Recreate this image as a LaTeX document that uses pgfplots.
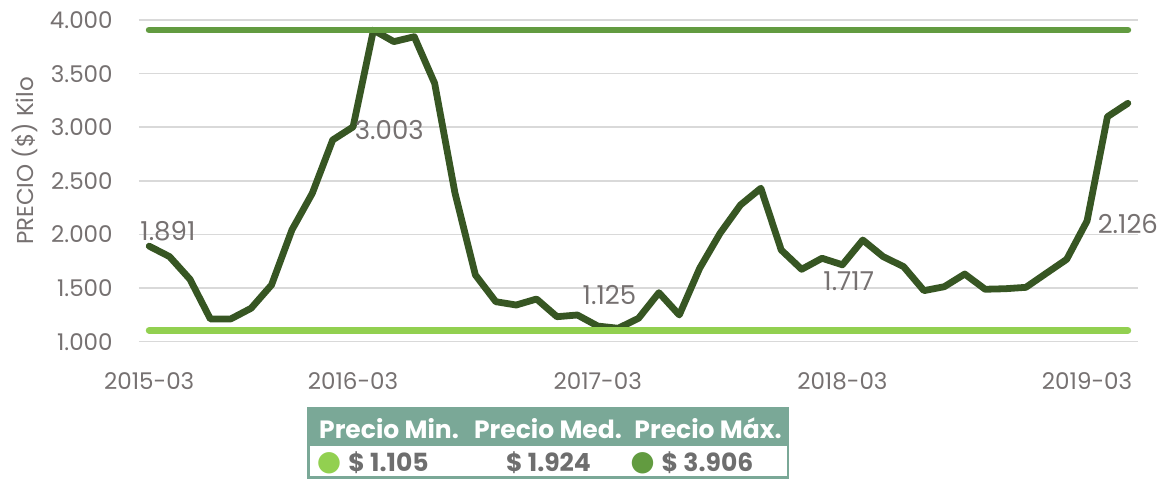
\documentclass[border=0pt]{standalone}
\usepackage{fontspec}
\setmainfont{Poppins}
\newfontfamily\symfont{DejaVu Sans}
\usepackage{pgfplots}
\usepackage{pgfplotstable}
\pgfplotsset{compat=1.18}

\definecolor{dkgreen}{HTML}{375623}
\definecolor{maxgreen}{HTML}{629B40}
\definecolor{mingreen}{HTML}{92D050}
\definecolor{hdr}{HTML}{7AA897}
\definecolor{txtgray}{HTML}{767171}
\definecolor{valgray}{HTML}{6E6E6E}
\definecolor{gridgray}{HTML}{D9D9D9}

\newcommand\lbl{\fontsize{11.5bp}{14bp}\selectfont}
\newcommand\datlbl{\fontsize{13bp}{15bp}\selectfont}
\newcommand\hdrfont{\fontsize{12.5bp}{15bp}\selectfont\bfseries}

% precio mensual por kilo
\pgfplotstableread{
x y
0 1891
1 1793
2 1582
3 1212
4 1212
5 1312
6 1529
7 2042
8 2384
9 2881
10 3003
11 3906
12 3798
13 3844
14 3410
15 2384
16 1622
17 1373
18 1342
19 1398
20 1233
21 1249
22 1146
23 1125
24 1218
25 1457
26 1249
27 1685
28 2011
29 2275
30 2431
31 1855
32 1675
33 1778
34 1717
35 1948
36 1793
37 1700
38 1476
39 1513
40 1631
41 1489
42 1494
43 1507
44 1638
45 1768
46 2126
47 3098
48 3223
}\precio

\begin{document}
\begin{tikzpicture}
\begin{axis}[
  name=ax, scale only axis,
  width=499.5bp, height=160.85bp,
  xmin=-0.5, xmax=48.5, ymin=1000, ymax=4000,
  axis line style={draw=none}, major tick length=0pt,
  ytick={1000,1500,...,4000},
  yticklabels={1.000,1.500,2.000,2.500,3.000,3.500,4.000},
  xtick={0,10,22,34,46},
  xticklabels={2015-03,2016-03,2017-03,2018-03,2019-03},
  ymajorgrids, grid style={color=gridgray, line width=0.75bp},
  tick label style={font=\lbl, text=txtgray, inner sep=0pt},
  yticklabel style={anchor=east, xshift=-13bp},
  xticklabel style={anchor=base, yshift=-24bp},
  ylabel={PRECIO (\$) Kilo},
  ylabel style={font=\lbl, text=txtgray, at={(axis description cs:-0.1141,0.5617)}, anchor=center},
  nodes near coords style={font=\datlbl, text=txtgray, inner sep=0pt},
  clip=false,
]
\addplot[dkgreen, line width=3.4bp, line join=round, line cap=round] table {\precio};

% etiquetas de datos
\addplot[draw=none, nodes near coords, point meta=explicit symbolic,
  every node near coord/.append style={anchor=center, xshift=9.35bp, yshift=7.4bp}]
  coordinates {(0,1891) [1.891]};
\addplot[draw=none, nodes near coords, point meta=explicit symbolic,
  every node near coord/.append style={anchor=center, xshift=18.1bp, yshift=-1.5bp}]
  coordinates {(10,3003) [3.003]};
\addplot[draw=none, nodes near coords, point meta=explicit symbolic,
  every node near coord/.append style={anchor=center, xshift=-4.35bp, yshift=16.65bp}]
  coordinates {(23,1125) [1.125]};
\addplot[draw=none, nodes near coords, point meta=explicit symbolic,
  every node near coord/.append style={anchor=center, xshift=3.15bp, yshift=-8.35bp}]
  coordinates {(34,1717) [1.717]};
\addplot[draw=none, nodes near coords, point meta=explicit symbolic,
  every node near coord/.append style={anchor=center, xshift=20.4bp, yshift=-1.65bp}]
  coordinates {(46,2126) [2.126]};

% precio maximo y minimo
\addplot[maxgreen, line width=3.4bp, line cap=round] coordinates {(0,3906) (48,3906)};
\addplot[mingreen, line width=3.4bp, line cap=round] coordinates {(0,1105) (48,1105)};
\end{axis}

% tabla resumen (coordenadas en pixeles de la referencia)
\begin{scope}[x=0.5bp, y=-0.5bp, shift={(ax.south west)}, shift={(-139,-341.7)}]
  \path (0,0) rectangle (1166,480);
  \fill[hdr] (307,407) rectangle (789,479);
  \fill[white] (310,446) rectangle (786.7,476.5);
  \node[anchor=base, text=white, font=\hdrfont, inner sep=0pt] at (389,438.3) {Precio Min.};
  \node[anchor=base, text=white, font=\hdrfont, inner sep=0pt] at (548,438.3) {Precio Med.};
  \node[anchor=base, text=white, font=\hdrfont, inner sep=0pt] at (708,438.3) {Precio Máx.};
  \node[text=mingreen, font=\symfont\fontsize{14bp}{14bp}\selectfont, inner sep=0pt] at (329,463.5) {●};
  \node[text=maxgreen, font=\symfont\fontsize{14bp}{14bp}\selectfont, inner sep=0pt] at (642.7,463.5) {●};
  \node[anchor=base, text=valgray, font=\hdrfont, inner sep=0pt] at (388.5,471.7) {\$ 1.105};
  \node[anchor=base, text=valgray, font=\hdrfont, inner sep=0pt] at (548.5,471.7) {\$ 1.924};
  \node[anchor=base, text=valgray, font=\hdrfont, inner sep=0pt] at (707.5,471.7) {\$ 3.906};
\end{scope}
\end{tikzpicture}
\end{document}
